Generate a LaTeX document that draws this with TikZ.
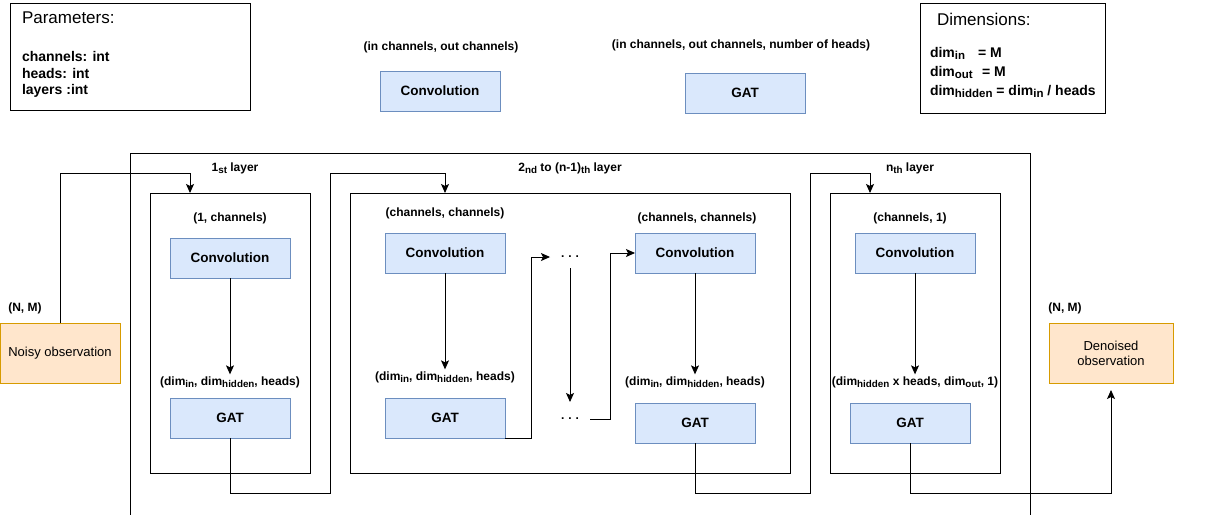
\documentclass[tikz,border=0pt]{standalone}
\usepackage{fontspec}
\setmainfont{Liberation Sans}
\usetikzlibrary{arrows.meta}
\definecolor{blkfill}{HTML}{DAE8FC}
\definecolor{blkline}{HTML}{6C8EBF}
\definecolor{obsfill}{HTML}{FFE6CC}
\definecolor{obsline}{HTML}{D79B00}
\newcommand{\lowtext}[1]{\raisebox{-0.4ex}{\scalebox{0.82}{#1}}}
\newcommand{\dimx}[1]{dim\lowtext{#1}}

\begin{document}
\begin{tikzpicture}[x=1pt, y=-1pt,
    every node/.style={outer sep=0pt},
    lbl/.style={font=\bfseries\fontsize{12}{14}\selectfont, inner sep=2pt},
    info/.style={font=\bfseries\fontsize{14}{17}\selectfont, inner sep=0pt},
    ttl/.style={font=\fontsize{17}{20}\selectfont, inner sep=0pt},
    blk/.style={draw=blkline, fill=blkfill, line width=0.9pt, minimum width=120, minimum height=40, font=\bfseries\fontsize{13.5}{16}\selectfont},
    obs/.style={draw=obsline, fill=obsfill, line width=0.9pt, minimum width=120, minimum height=60, align=center, font=\fontsize{13}{15}\selectfont},
    frame/.style={draw, line width=0.9pt},
    dots/.style={font=\bfseries\fontsize{12}{14}\selectfont, minimum width=40, minimum height=22, inner sep=0pt},
    arr/.style={-{Stealth[length=9pt, width=8pt, inset=2pt]}, line width=0.9pt}]
        \useasboundingbox (0,0) rectangle (1230,514);

        % legend boxes
        \node[frame, minimum width=240, minimum height=107] (parbox) at (130,56.5) {};
        \node[ttl, anchor=base west] (partitle) at (22,23) {Parameters:};
        \node[info, anchor=base west] (parch) at (22,61) {channels: int};
        \node[info, anchor=base west] (parhd) at (22,78) {heads: int};
        \node[info, anchor=base west] (parly) at (22,94) {layers :int};

        \node[frame, minimum width=185, minimum height=110] (dimbox) at (1012.5,58) {};
        \node[ttl, anchor=base west] (dimtitle) at (937,25) {Dimensions:};
        \node[info, anchor=base west] (dimin) at (930,57) {\dimx{in}};
        \node[info, anchor=base west] (eqin) at (978,57) {= M};
        \node[info, anchor=base west] (dimout) at (930,76) {\dimx{out}};
        \node[info, anchor=base west] (eqout) at (982,76) {= M};
        \node[info, anchor=base west] (dimhid) at (930,95) {\dimx{hidden} = \dimx{in} / heads};

        % building blocks
        \node[lbl] (convsig) at (441,47) {(in channels, out channels)};
        \node[blk] (convkey) at (440,91) {Convolution};
        \node[lbl] (gatsig) at (741,45) {(in channels, out channels, number of heads)};
        \node[blk] (gatkey) at (745,93) {GAT};

        % frames
        \node[frame, minimum width=900, minimum height=365] (net) at (580,335.5) {};
        \node[frame, minimum width=160, minimum height=280] (l1) at (230,333) {};
        \node[frame, minimum width=440, minimum height=280] (l2) at (570,333) {};
        \node[frame, minimum width=170, minimum height=280] (ln) at (915,333) {};
        \node[lbl] (t1) at (235,168) {1\lowtext{st} layer};
        \node[lbl] (t2) at (570,168) {2\lowtext{nd} to (n-1)\lowtext{th} layer};
        \node[lbl] (tn) at (910,168) {n\lowtext{th} layer};

        % in and out
        \node[lbl] (nmin) at (25,308) {(N, M)};
        \node[obs] (noisy) at (60,353) {Noisy observation};
        \node[lbl] (nmout) at (1065,308) {(N, M)};
        \node[obs, minimum width=124] (den) at (1111,353) {Denoised\\observation};

        % layer 1
        \node[lbl] (c1) at (230,218) {(1, channels)};
        \node[blk] (conv1) at (230,258) {Convolution};
        \node[lbl] (d1) at (230,382) {(\dimx{in}, \dimx{hidden}, heads)};
        \node[blk] (gat1) at (230,418) {GAT};

        % layers 2 to n-1
        \node[lbl] (c2a) at (445,213) {(channels, channels)};
        \node[blk] (conv2a) at (445,253) {Convolution};
        \node[lbl] (d2a) at (445,377) {(\dimx{in}, \dimx{hidden}, heads)};
        \node[blk] (gat2a) at (445,418) {GAT};
        \node[dots] (dotsA) at (570,257) {.\,\,.\,\,.};
        \node[dots] (dotsB) at (570,419) {.\,\,.\,\,.};
        \node[lbl] (c2b) at (697,218) {(channels, channels)};
        \node[blk] (conv2b) at (695,253) {Convolution};
        \node[lbl] (d2b) at (695,382) {(\dimx{in}, \dimx{hidden}, heads)};
        \node[blk] (gat2b) at (695,423) {GAT};

        % layer n
        \node[lbl] (cn) at (910,218) {(channels, 1)};
        \node[blk] (convn) at (915,253) {Convolution};
        \node[lbl] (dn) at (915,382) {(\dimx{hidden} x heads, \dimx{out}, 1)};
        \node[blk] (gatn) at (910,423) {GAT};

        % connectors
        \coordinate (in1) at (190,173);
        \coordinate (out1) at (330,493);
        \coordinate (in2) at (445,173);
        \coordinate (bendA) at (531,438);
        \coordinate (bendB) at (610,419);
        \coordinate (out2) at (810,493);
        \coordinate (in3) at (870,173);
        \coordinate (out3) at (1111,493);

        \draw[arr] (noisy.north) |- (in1) -- (in1 |- l1.north);
        \draw[arr] (conv1.south) -- (d1.north);
        \draw[arr] (gat1.south) |- (out1) |- (in2) -- (in2 |- l2.north);
        \draw[arr] (conv2a.south) -- (d2a.north);
        \draw[arr] (gat2a.south east) -- (bendA) |- (dotsA.west);
        \draw[arr, shorten >=6pt] (dotsA.south) -- (dotsB.north);
        \draw[arr] (dotsB.east) -- (bendB) |- (conv2b.west);
        \draw[arr] (conv2b.south) -- (d2b.north);
        \draw[arr] (gat2b.south) |- (out2) |- (in3) -- (in3 |- ln.north);
        \draw[arr] (convn.south) -- (dn.north);
        \draw[arr, shorten >=7pt] (gatn.south) |- (out3) -- (den.south);
\end{tikzpicture}
\end{document}
